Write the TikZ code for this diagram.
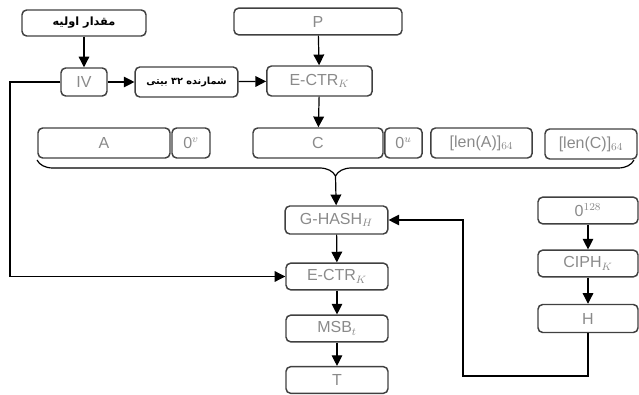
\documentclass[tikz,border=0pt]{standalone}
\usepackage{fontspec}
\setmainfont{Liberation Sans}
\newfontfamily\farsifont[Script=Arabic]{DejaVu Sans}
\TeXXeTstate=1
\usepackage{tikz}
\usetikzlibrary{positioning,arrows.meta,decorations.pathreplacing}
\definecolor{colorBorder}{HTML}{404040}
\definecolor{colorLabel}{HTML}{8a8a8a}

\tikzset{
  blockbox/.style={draw=colorBorder, line width=1.1pt, rounded corners=3.5pt,
    minimum width=#1, minimum height=21pt, inner sep=0pt,
    text=colorLabel, font=\fontsize{12}{14}\selectfont},
  farsibox/.style={blockbox=#1, text=black,
    font=\farsifont\bfseries\fontsize{8.5}{10}\selectfont},
  flow/.style={-{Triangle[length=8pt,width=8pt]}, line width=0.9pt},
}

\begin{document}
\begin{tikzpicture}[x=0.75pt, y=-0.75pt]
    \useasboundingbox (0,0) rectangle (639,395);
    % top row
    \node[farsibox=93pt, minimum height=19.5pt] (init) at (84,23) {\beginR مقدار اولیه\endR};
    \node[blockbox=34.5pt] (iv) at (84,82) {IV};
    \node[farsibox=77pt, minimum height=22.5pt, font=\farsifont\bfseries\fontsize{7.3}{9}\selectfont] (ctr) at (186.5,82) {\beginR شمارنده \beginL ۳۲\endL{} بیتی\endR};
    \node[blockbox=126pt, minimum height=20pt] (P) at (318,21.5) {P};
    \node[blockbox=79pt, minimum height=22.5pt] (ectrA) at (319.5,81) {E-CTR$_K$};
    % inputs of the hash
    \node[blockbox=99pt, minimum height=22.5pt] (A) at (104,143) {A};
    \node[blockbox=28.5pt, minimum height=22.5pt] (zv) at (191,143) {0$^v$};
    \node[blockbox=97.5pt, minimum height=22.5pt] (C) at (318,143) {C};
    \node[blockbox=28pt, minimum height=22.5pt] (zu) at (403.5,143) {0$^u$};
    \node[blockbox=76pt, minimum height=22.5pt] (lenA) at (481.5,143) {[len(A)]$_{64}$};
    \node[blockbox=69pt, minimum height=22.5pt] (lenC) at (591,144) {[len(C)]$_{64}$};
    % main column
    \node[blockbox=77pt] (ghash) at (336.5,220) {G-HASH$_H$};
    \node[blockbox=76.5pt, minimum height=20pt] (ectrB) at (337,276.5) {E-CTR$_K$};
    \node[blockbox=76.5pt, minimum height=20pt] (msb) at (337,328.5) {MSB$_t$};
    \node[blockbox=76.5pt, minimum height=20pt] (T) at (337,380) {T};
    % hash subkey
    \node[blockbox=75pt, minimum height=20pt] (zero) at (588,210.5) {0$^{128}$};
    \node[blockbox=75pt, minimum height=20pt] (ciph) at (588,263.5) {CIPH$_K$};
    \node[blockbox=75pt, minimum height=21pt] (H) at (588,318.5) {H};

    \coordinate (bracetip) at (335.5,176);
    \coordinate (ivleft) at (10,82);
    \coordinate (hcorner) at (463,376);

    \draw[flow] (init) -- (iv);
    \draw[flow] (iv) -- (ctr);
    \draw[flow] (ctr) -- (ectrA);
    \draw[flow] (P) -- (ectrA);
    \draw[flow] (ectrA) -- (C);
    \draw[line width=0.9pt, decorate, decoration={brace, mirror, amplitude=12pt}] (37,160) -- (634,160);
    \draw[flow] (bracetip) -- (ghash);
    \draw[flow] (ghash) -- (ectrB);
    \draw[flow] (ectrB) -- (msb);
    \draw[flow] (msb) -- (T);
    \draw[flow] (zero) -- (ciph);
    \draw[flow] (ciph) -- (H);
    \draw[flow] (H.south) |- (hcorner) |- (ghash.east);
    \draw[flow] (iv.west) -- (ivleft) |- (ectrB.west);
\end{tikzpicture}
\end{document}
